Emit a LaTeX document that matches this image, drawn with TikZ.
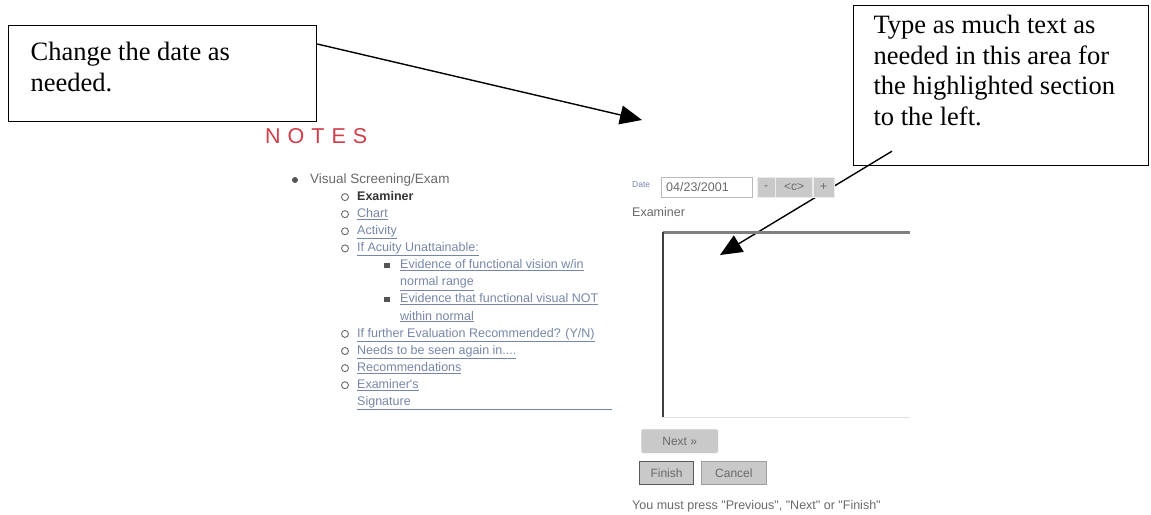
\documentclass[tikz,border=0pt]{standalone}
\usepackage{fontspec}
\setmainfont{Liberation Serif}
\newfontfamily\uisans{Liberation Sans}
\usetikzlibrary{arrows.meta,calc,positioning}
\definecolor{notesred}{RGB}{205,62,72}
\definecolor{uigray}{RGB}{105,105,105}
\definecolor{linkblue}{RGB}{118,134,168}
\definecolor{buttongray}{RGB}{201,201,201}
\tikzset{
    callout-box/.style = {draw=black, line width=1.2pt, rectangle, anchor=north west, inner ysep=0pt, font=\fontsize{26.5}{30.5}\selectfont},
    callout-arrow/.style = {line width=1.4pt, -{Triangle[length=22pt,width=19pt]}},
    ui-text/.style = {anchor=west, inner sep=0pt, text height=9pt, text depth=2.5pt, text=uigray, font=\uisans\fontsize{12.5}{14}\selectfont},
    ui-link/.style = {ui-text, text=linkblue},
    ring/.style = {circle, draw=uigray, line width=0.9pt, inner sep=0pt, minimum size=7pt},
    dot/.style = {circle, fill=uigray!80!black, inner sep=0pt, minimum size=6pt},
    square/.style = {rectangle, fill=uigray!80!black, inner sep=0pt, minimum size=5.5pt},
    ui-button/.style = {rectangle, fill=buttongray, draw=white!85!gray, anchor=north west, inner sep=0pt, text=uigray, font=\uisans\fontsize{12}{14}\selectfont},
}

\begin{document}
\begin{tikzpicture}[x=1pt, y=-1pt]
\useasboundingbox (0,0) rectangle (1151,514);

% callouts
\node[callout-box, inner xsep=22pt, minimum width=308pt, minimum height=96pt] (datebox) at (8,25)
    {\begin{minipage}[t][62pt][t]{264pt}\raggedright Change the date as\\ needed.\end{minipage}};
\node[callout-box, inner xsep=20pt, minimum width=295pt, minimum height=160pt] (typebox) at (853,5)
    {\begin{minipage}[t][140pt][t]{255pt}\raggedright Type as much text as\\ needed in this area for\\ the highlighted section\\ to the left.\end{minipage}};
\coordinate (dateend) at (642,120);
\coordinate (areaend) at (720,255);
\draw[callout-arrow] ($(datebox.north east)+(0,19)$) -- (dateend);
\draw[callout-arrow] ($(typebox.south west)+(39,-15)$) -- (areaend);

% notes list
\node[anchor=west, inner sep=0pt, text=notesred, font=\uisans\fontsize{21.5}{24}\selectfont] (notes) at (265,136)
    {N\hspace{7pt}O\hspace{7pt}T\hspace{7pt}E\hspace{7pt}S};
\node[dot] (dot0) at (295,180) {};
\node[ui-text, font=\uisans\fontsize{13.5}{15}\selectfont] (visual) at (310,180) {Visual Screening/Exam};
\foreach \k in {1,2,3,4,9,10,11,12}
    \node[ring] (ring\k) at (345,{180+17.1*\k}) {};
\node[ui-text, text=black!80, font=\uisans\bfseries\fontsize{12.5}{14}\selectfont] (examiner) at (357,197.1) {Examiner};
\node[ui-link] (chart) at (357,214.2) {\underline{Chart}};
\node[ui-link] (activity) at (357,231.3) {\underline{Activity}};
\node[ui-link] (acuity) at (357,248.4) {\underline{If Acuity Unattainable:}};
\node[square] (square5) at (387,265.5) {};
\node[ui-link] (within) at (400,265.5) {\underline{Evidence of functional vision w/in}};
\node[ui-link] (range) at (400,282.6) {\underline{normal range}};
\node[square] (square7) at (387,299.7) {};
\node[ui-link] (notwithin) at (400,299.7) {\underline{Evidence that functional visual NOT}};
\node[ui-link] (normal) at (400,316.8) {\underline{within normal}};
\node[ui-link] (further) at (357,333.9) {\underline{If further Evaluation Recommended? (Y/N)}};
\node[ui-link] (seenagain) at (357,351) {\underline{Needs to be seen again in....}};
\node[ui-link] (recommend) at (357,368.1) {\underline{Recommendations}};
\node[ui-link] (examiners) at (357,385.2) {\underline{Examiner's}};
\node[ui-link] (signature) at (357,402.3) {\underline{\makebox[255pt][l]{Signature}}};

% form
\node[ui-text, text=linkblue, text height=6.5pt, text depth=1pt, font=\uisans\fontsize{8.5}{9}\selectfont] (datelabel) at (632,185) {Date};
\node[rectangle, draw=gray!55, anchor=north west, minimum height=20pt, inner xsep=5pt, text width=81pt, align=left, text=uigray, font=\uisans\fontsize{12.5}{14}\selectfont] (datefield) at (661,177) {04/23/2001};
\node[ui-button, minimum width=18pt, minimum height=20pt] (minusbtn) at (757,177) {-};
\node[ui-button, minimum width=37pt, minimum height=20pt, right=0pt of minusbtn] (todaybtn) {<c>};
\node[ui-button, minimum width=21pt, minimum height=20pt, right=0pt of todaybtn] (plusbtn) {+};
\node[ui-text] (examinerlabel) at (632,213) {Examiner};
\node[anchor=north west, minimum width=247pt, minimum height=185pt, inner sep=0pt] (notearea) at (663,232) {};
\draw[gray!25, line width=1pt] (notearea.south west) -- (notearea.south east);
\draw[black!50, line width=3pt] (notearea.north west) -- (notearea.north east);
\draw[black!75, line width=2.2pt] (notearea.south west) -- (notearea.north west);
\node[ui-button, rounded corners=1.5pt, minimum width=77pt, minimum height=24pt] (nextbtn) at (641,429) {Next »};
\node[ui-button, draw=black!65, line width=1.1pt, minimum width=54pt, minimum height=23pt] (finishbtn) at (639,461) {Finish};
\node[ui-button, draw=gray!75, line width=0.8pt, minimum width=65pt, minimum height=23pt] (cancelbtn) at (701,461) {Cancel};
\node[ui-text] (mustpress) at (632,506) {You must press "Previous", "Next" or "Finish"};
\end{tikzpicture}
\end{document}
